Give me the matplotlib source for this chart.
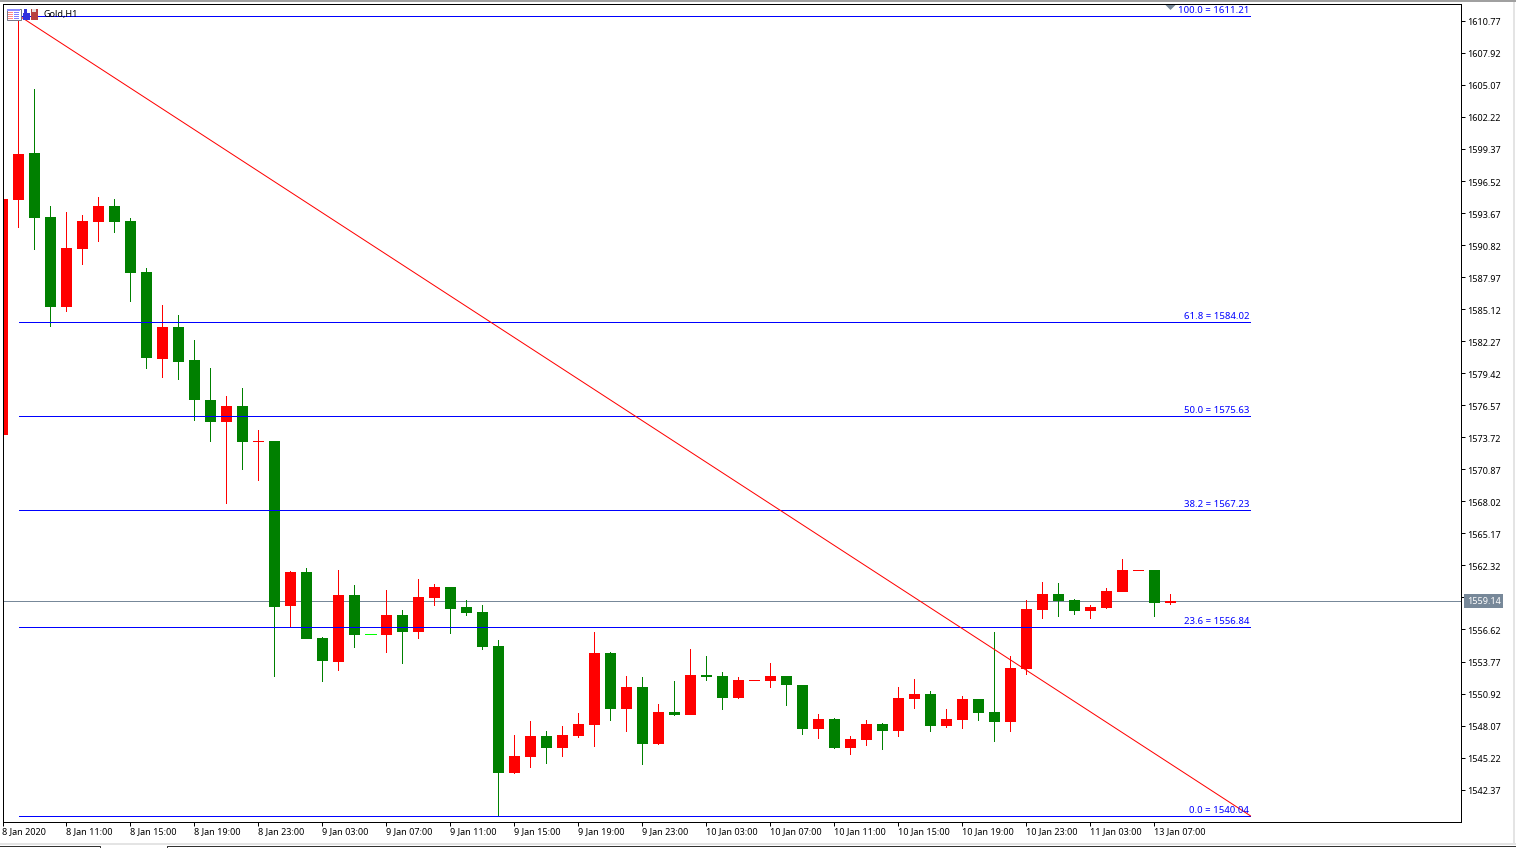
import matplotlib
matplotlib.use("Agg")
import matplotlib.pyplot as plt
from matplotlib.patches import Rectangle
from matplotlib.lines import Line2D
from matplotlib.transforms import ScaledTranslation

plt.rcParams['font.family'] = ['Noto Sans', 'DejaVu Sans']

# candles, first one is cut off by the left edge of the chart
opens = [1573.94, 1594.87, 1598.97, 1593.36, 1585.28, 1590.51, 1592.91, 1594.34, 1593.00, 1588.46,
         1580.71, 1583.56, 1580.62, 1577.06, 1575.10, 1576.53, 1573.26, 1573.41, 1558.71, 1561.74,
         1555.87, 1553.73, 1559.69, 1556.19, 1556.13, 1557.91, 1556.40, 1559.43, 1560.41, 1558.63,
         1558.18, 1555.15, 1543.84, 1545.27, 1547.14, 1546.07, 1547.14, 1548.12, 1554.53, 1549.54,
         1551.50, 1546.42, 1549.27, 1549.01, 1552.57, 1552.48, 1550.52, 1552.03, 1552.03, 1552.48,
         1551.68, 1547.76, 1548.65, 1546.07, 1546.78, 1548.21, 1547.58, 1550.43, 1550.88, 1548.03,
         1548.56, 1550.43, 1549.27, 1548.38, 1553.10, 1558.36, 1559.78, 1559.25, 1558.27, 1558.54,
         1559.96, 1561.86, 1561.92, 1558.98]
highs = [1594.96, 1611.21, 1604.67, 1594.34, 1593.72, 1593.54, 1595.14, 1594.96, 1593.27, 1588.82,
         1585.52, 1584.63, 1582.40, 1579.91, 1577.42, 1578.13, 1574.39, 1573.41, 1561.83, 1562.10,
         1555.95, 1561.92, 1560.58, 1556.19, 1560.14, 1558.36, 1561.12, 1560.67, 1560.41, 1559.25,
         1558.80, 1555.69, 1547.23, 1548.47, 1547.58, 1548.03, 1549.19, 1556.40, 1554.62, 1552.48,
         1552.39, 1549.99, 1552.03, 1554.88, 1554.26, 1552.84, 1552.39, 1552.12, 1553.64, 1552.48,
         1551.68, 1549.10, 1548.74, 1547.14, 1548.56, 1548.30, 1551.50, 1552.21, 1551.14, 1549.54,
         1550.70, 1550.43, 1556.40, 1554.26, 1559.25, 1560.85, 1560.76, 1559.34, 1558.80, 1560.32,
         1562.90, 1561.92, 1561.92, 1559.78]
lows = [1573.94, 1592.38, 1590.36, 1583.50, 1584.84, 1589.08, 1591.07, 1591.87, 1585.73, 1579.82,
        1579.02, 1578.84, 1575.19, 1573.32, 1567.80, 1570.83, 1569.85, 1552.42, 1556.84, 1555.78,
        1551.95, 1552.93, 1554.97, 1556.19, 1554.53, 1553.55, 1555.78, 1558.71, 1556.22, 1557.82,
        1554.80, 1540.01, 1543.75, 1544.29, 1544.64, 1545.27, 1546.96, 1546.16, 1548.47, 1547.49,
        1544.55, 1546.33, 1548.92, 1549.01, 1552.03, 1549.45, 1550.43, 1552.03, 1551.41, 1549.81,
        1547.23, 1546.87, 1545.98, 1545.45, 1546.25, 1545.89, 1547.05, 1549.54, 1547.49, 1547.85,
        1547.76, 1548.47, 1546.60, 1547.49, 1552.57, 1557.56, 1557.73, 1557.91, 1557.56, 1558.45,
        1559.96, 1561.86, 1557.73, 1558.80]
closes = [1594.96, 1598.88, 1593.27, 1585.28, 1590.60, 1593.00, 1594.34, 1592.91, 1588.37, 1580.80,
          1583.56, 1580.44, 1577.06, 1575.10, 1576.53, 1573.26, 1573.41, 1558.65, 1561.74, 1555.78,
          1553.82, 1559.69, 1556.13, 1556.19, 1557.91, 1556.40, 1559.52, 1560.41, 1558.45, 1558.09,
          1555.06, 1543.84, 1545.36, 1547.14, 1546.07, 1547.23, 1548.21, 1554.53, 1549.54, 1551.50,
          1546.42, 1549.27, 1549.01, 1552.57, 1552.39, 1550.52, 1552.12, 1552.12, 1552.48, 1551.68,
          1547.76, 1548.65, 1546.07, 1546.87, 1548.21, 1547.58, 1550.52, 1550.88, 1548.03, 1548.65,
          1550.43, 1549.19, 1548.38, 1553.19, 1558.45, 1559.78, 1559.16, 1558.27, 1558.63, 1560.05,
          1561.92, 1561.92, 1558.98, 1559.14]

fib_levels = ["100.0", "61.8", "50.0", "38.2", "23.6", "0.0"]
fib_prices = [1611.21, 1584.02, 1575.63, 1567.23, 1556.84, 1540.04]
last_price = 1559.14

y_ticks = [1610.77, 1607.92, 1605.07, 1602.22, 1599.37, 1596.52, 1593.67, 1590.82, 1587.97,
           1585.12, 1582.27, 1579.42, 1576.57, 1573.72, 1570.87, 1568.02, 1565.17, 1562.32,
           1559.47, 1556.62, 1553.77, 1550.92, 1548.07, 1545.22, 1542.37]
x_labels = ["8 Jan 2020", "8 Jan 11:00", "8 Jan 15:00", "8 Jan 19:00", "8 Jan 23:00",
            "9 Jan 03:00", "9 Jan 07:00", "9 Jan 11:00", "9 Jan 15:00", "9 Jan 19:00", "9 Jan 23:00",
            "10 Jan 03:00", "10 Jan 07:00", "10 Jan 11:00", "10 Jan 15:00", "10 Jan 19:00", "10 Jan 23:00",
            "11 Jan 03:00", "13 Jan 07:00"]

up_color = '#ff0000'
down_color = '#008000'
doji_color = '#00ff00'
fib_color = '#0000ff'
price_color = '#778899'
W, H = 1516, 848
px = 0.72  # one pixel in points at dpi 100
text_size = 6.5
fib_text_size = 6.9

fig = plt.figure(figsize=(W / 100, H / 100), dpi=100, facecolor='white')
ax = fig.add_axes([2.5 / W, 1 - 821.9 / H, 1458.5 / W, 818 / H])
ax.set_ylim(1539.50, 1612.278)

ax.axhline(last_price, color=price_color, lw=1 * px, zorder=1)

# candles, x is the bar number so the first visible full bar is 0
x = list(range(-1, len(opens) - 1))
for i, o, h, l, c in zip(x, opens, highs, lows, closes):
    if c > o:
        col = up_color
    elif c < o:
        col = down_color
    else:
        col = doji_color
    if h > l:
        ax.bar(i, h - l, bottom=l, width=1 / 16, color=col, lw=0, zorder=2)
    if c == o:
        ax.plot([i - 0.34, i + 0.34], [c, c], color=col, lw=1 * px, solid_capstyle='butt', zorder=2, antialiased=False)
    else:
        ax.bar(i, abs(c - o), bottom=min(o, c), width=0.6875, color=col, lw=0, zorder=2)

# fibonacci
fib_start = 0.05
fib_end = 77
for level, price in zip(fib_levels, fib_prices):
    ax.plot([fib_start, fib_end], [price, price], color=fib_color, lw=1 * px, zorder=3, solid_capstyle='butt', antialiased=False)
    ax.annotate(f"{level} = {price:.2f}", (fib_end, price), xytext=(-1.0, 0.7), textcoords='offset points',
                ha='right', va='bottom', color=fib_color, fontsize=fib_text_size, zorder=4)
ax.plot([fib_start, fib_end], [fib_prices[0], fib_prices[-1]], color=up_color, lw=1 * px, zorder=3)

# axes
for name in ax.spines:
    ax.spines[name].set_linewidth(1 * px)

ax.yaxis.tick_right()
ax.set_yticks(y_ticks)
ax.set_yticklabels([f"{v:.2f}" for v in y_ticks])
ax.set_xticks(list(range(-1, 72, 4)))
ax.set_xticklabels(x_labels, ha='left')
ax.set_xlim(-1, 90.16)
ax.tick_params(axis='y', length=4 * px, width=1 * px, pad=1.6, labelsize=text_size)
ax.tick_params(axis='x', length=4 * px, width=1 * px, pad=0.7, labelsize=text_size)

# y labels sit one pixel under the tick in the terminal
down_one = ScaledTranslation(0, -1 / 100, fig.dpi_scale_trans)
for t in ax.get_yticklabels():
    t.set_transform(t.get_transform() + down_one)

# last price tag
ax.annotate(f"{last_price:.2f}", (1, last_price), xycoords=('axes fraction', 'data'), xytext=(4.1, 0),
            textcoords='offset points', ha='left', va='center', color='white', fontsize=text_size,
            bbox=dict(boxstyle='square,pad=0.3', fc=price_color, ec='none'), zorder=6, annotation_clip=False)

# small grey triangle over the last bar
ax.plot([72], [1612.01], marker=[(-2, 1), (2, 1), (0, -1)], ms=10 * px, color=price_color, mew=0, zorder=6, clip_on=False)


# window title and the little icons
def px_rect(x0, y0, w, h, color, ec='none', lw=0):
    fig.add_artist(Rectangle((x0 / W, 1 - (y0 + h) / H), w / W, h / H, transform=fig.transFigure,
                             fc=color, ec=ec, lw=lw, zorder=8))


px_rect(6.5, 8.5, 14, 11.5, '#ffffff', ec='#777788', lw=1 * px)
px_rect(7, 9, 13, 2, '#8a8aff')
for y_row in [12, 14, 16, 18]:
    px_rect(8, y_row, 5, 1, '#ff8888')
    px_rect(14, y_row, 5, 1, '#7f7fff')
px_rect(23, 13, 7, 7, '#3333dd')
px_rect(24, 9, 3, 4, '#3333dd')
px_rect(31, 9, 7, 11, '#b84040')
px_rect(32, 9, 4, 3, '#e8e0e0')
fig.text(44 / W, 1 - 15 / H, "Gold,H1", fontsize=text_size, color='black', va='center', ha='left', zorder=9)

# frame of the terminal window
px_rect(0, 0, W, 1.5, '#a0a0a0')
px_rect(1513, 2, 1.5, 841, '#e4e4e4')
px_rect(0, 843, W, 1.5, '#e4e4e4')
fig.add_artist(Line2D([0, 99.5 / W, 99.5 / W], [1 - 845.5 / H, 1 - 845.5 / H, 0], color='#333333', lw=1 * px, zorder=9))
fig.add_artist(Line2D([166.5 / W, 166.5 / W, 1], [0, 1 - 845.5 / H, 1 - 845.5 / H], color='#333333', lw=1 * px, zorder=9))

fig.savefig("out.png", dpi=100)
